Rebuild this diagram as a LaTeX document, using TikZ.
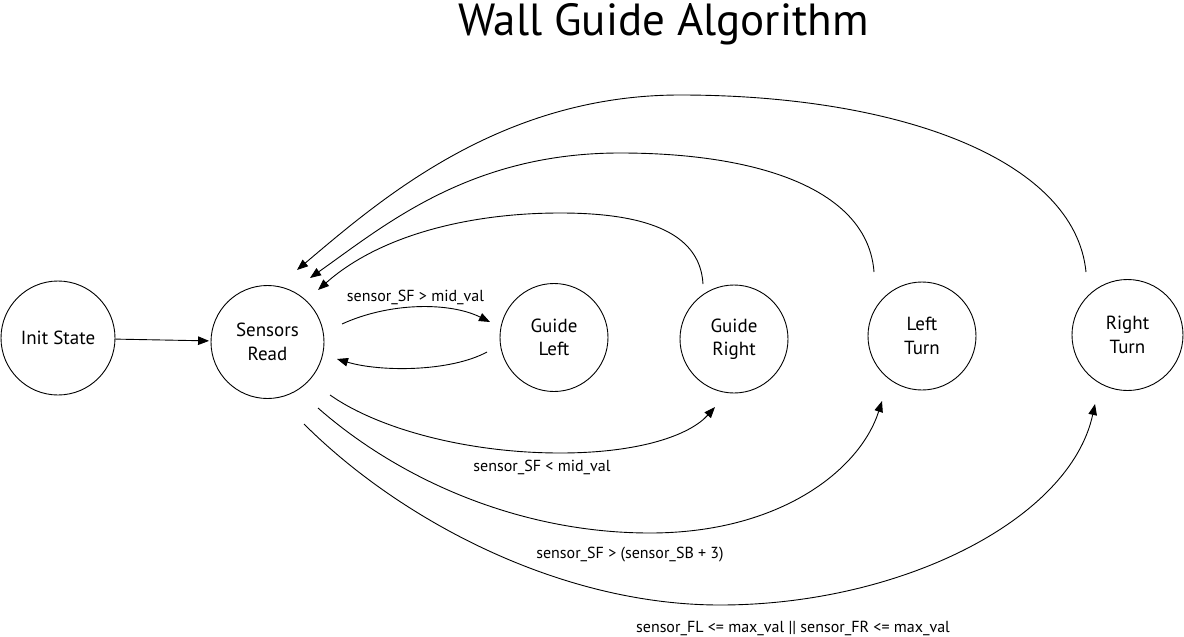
\documentclass[tikz,border=0pt]{standalone}
\usepackage{fontspec}
\setmainfont{PT Sans}
\usetikzlibrary{arrows.meta}
\begin{document}
\begin{tikzpicture}[x=1pt,y=-1pt,
  state/.style={circle,draw,line width=0.9pt,align=center,inner sep=0pt,
    font=\fontsize{19}{23.5}\selectfont},
  conn/.style={line width=0.9pt,-{Triangle[length=11pt,width=8.5pt]}},
  lbl/.style={font=\fontsize{16}{18}\selectfont,inner sep=0pt}]
\useasboundingbox (0,0) rectangle (1184,637);
\fill[white] (0,0) rectangle (1184,637);

\node[font=\fontsize{45}{50}\selectfont] (title) at (663.5,24) {Wall Guide Algorithm};

\node[state,minimum size=114pt] (init) at (58,338) {Init State};
\node[state,minimum size=113pt] (sr) at (267.5,342) {Sensors\\Read};
\node[state,minimum size=108pt] (gl) at (554,337.5) {Guide\\Left};
\node[state,minimum size=108pt] (gr) at (734,339) {Guide\\Right};
\node[state,minimum size=108pt] (lt) at (922,336) {Left\\Turn};
\node[state,minimum size=111pt] (rt) at (1127.5,335) {Right\\Turn};

\draw[conn,shorten >=1.5pt] (init) -- (sr);

\draw[conn] ([shift={(74.5,-18)}]sr.center) .. controls (390,302) and (450,302) .. ([shift={(-64,-15.5)}]gl.center);
\draw[conn] ([shift={(-67,14.5)}]gl.center) .. controls (450,372) and (380,372) .. ([shift={(69.5,17)}]sr.center);

\draw[conn] ([shift={(62.5,53)}]sr.center) .. controls (380,430) and (470,453) .. (560,453)
  .. controls (640,453) and (690,435) .. ([shift={(-19,68)}]gr.center);
\draw[conn] ([shift={(50.5,66)}]sr.center) .. controls (400,480) and (520,533) .. (650,533)
  .. controls (780,533) and (860,470) .. ([shift={(-40,65)}]lt.center);
\draw[conn] ([shift={(36.5,82)}]sr.center) .. controls (400,520) and (560,605) .. (720,605)
  .. controls (900,605) and (1070,520) .. ([shift={(-32.5,69)}]rt.center);

\draw[conn] ([shift={(-31,-55)}]gr.center) .. controls (700,230) and (640,213) .. (560,213)
  .. controls (470,213) and (380,235) .. ([shift={(50.5,-52)}]sr.center);
\draw[conn] ([shift={(-48,-64)}]lt.center) .. controls (868,190) and (760,153) .. (620,153)
  .. controls (470,153) and (385,225) .. ([shift={(42.5,-64)}]sr.center);
\draw[conn] ([shift={(-41.5,-63)}]rt.center) .. controls (1075,160) and (900,95) .. (680,95)
  .. controls (500,95) and (380,200) .. ([shift={(29.5,-72)}]sr.center);

\node[lbl] (l1) at (415.5,297) {sensor\_SF > mid\_val};
\node[lbl] (l2) at (542,467) {sensor\_SF < mid\_val};
\node[lbl] (l3) at (630,555) {sensor\_SF > (sensor\_SB + 3)};
\node[lbl] (l4) at (793,628) {sensor\_FL <= max\_val || sensor\_FR <= max\_val};
\end{tikzpicture}
\end{document}
